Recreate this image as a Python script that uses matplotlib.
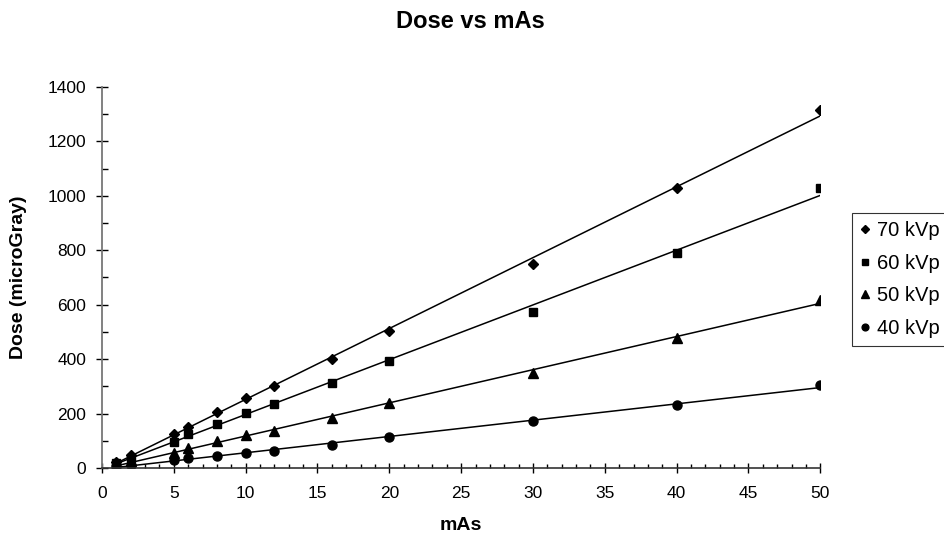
import numpy as np
import matplotlib.pyplot as plt
from matplotlib.ticker import MultipleLocator

plt.rcParams['font.family'] = ['Liberation Sans', 'DejaVu Sans']

# mAs settings and measured dose (microGray) for each tube voltage
mas = [1, 2, 5, 6, 8, 10, 12, 16, 20, 30, 40, 50]
dose_70 = [24, 48, 125, 151, 207, 256, 301, 402, 502, 748, 1029, 1316]
dose_60 = [20, 37, 97, 124, 162, 201, 236, 314, 392, 572, 789, 1028]
dose_50 = [12, 25, 56, 72, 99, 120, 135, 183, 238, 350, 479, 618]
dose_40 = [6, 11, 29, 36, 44, 56, 62, 85, 115, 174, 231, 304]

labels = ['70 kVp', '60 kVp', '50 kVp', '40 kVp']
markers = ['D', 's', '^', 'o']
msizes = [5.5, 6, 7, 6.5]

fig = plt.figure(figsize=(9.44, 5.43), dpi=100)
ax = fig.add_axes([0.108, 0.138, 0.761, 0.702])

x = np.array(mas)
for y, lab, m, ms in zip([dose_70, dose_60, dose_50, dose_40], labels, markers, msizes):
    ax.plot(x, y, linestyle='none', marker=m, color='black', markersize=ms, label=lab)
    # linear trendline like excel
    k, b = np.polyfit(x, y, 1)
    xx = np.array([x.min(), x.max()])
    ax.plot(xx, k * xx + b, color='black', linewidth=1.1)

ax.set_xlim(0, 50)
ax.set_ylim(0, 1400)
ax.xaxis.set_major_locator(MultipleLocator(5))
ax.xaxis.set_minor_locator(MultipleLocator(1))
ax.yaxis.set_major_locator(MultipleLocator(200))
ax.yaxis.set_minor_locator(MultipleLocator(100))

for s in ['top', 'right']:
    ax.spines[s].set_visible(False)
ax.spines['left'].set_color('#777777')
ax.spines['bottom'].set_color('#333333')
ax.spines['left'].set_linewidth(1.3)
ax.spines['bottom'].set_linewidth(1.2)

ax.tick_params(axis='x', which='major', direction='inout', length=7.7, width=1, labelsize=12.5, pad=9)
ax.tick_params(axis='x', which='minor', direction='in', length=3.1, width=1)
ax.tick_params(axis='y', which='major', direction='inout', length=8.9, width=1, labelsize=12.5, pad=7)
ax.tick_params(axis='y', which='minor', direction='in', length=4.3, width=1)

ax.set_xlabel('mAs', fontsize=14, fontweight='bold')
ax.xaxis.set_label_coords(0.5, -0.129)
ax.set_ylabel('Dose (microGray)', fontsize=14, fontweight='bold')
ax.yaxis.set_label_coords(-0.105, 0.5)
fig.text(470 / 944, 1 - 22 / 543, 'Dose vs mAs', fontsize=17, fontweight='bold', ha='center', va='center')

leg = ax.legend(loc='upper left', bbox_to_anchor=(852 / 944, 1 - 213 / 543), bbox_transform=fig.transFigure,
                fontsize=14.5, frameon=True, fancybox=False, handlelength=0.5, handletextpad=0.35,
                borderpad=0.4, labelspacing=0.68, borderaxespad=0, markerscale=0.75)
leg.get_frame().set_edgecolor('black')
leg.get_frame().set_linewidth(0.8)

fig.savefig('out.png', dpi=100)
